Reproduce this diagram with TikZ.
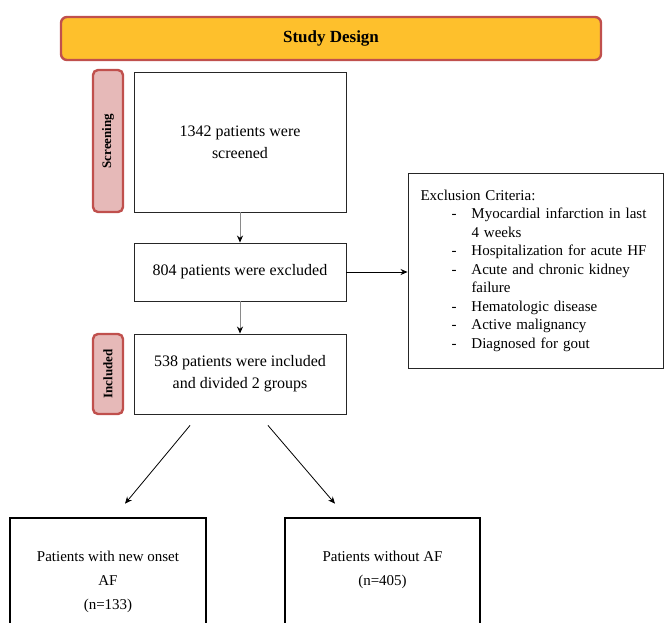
\documentclass[tikz,border=0pt]{standalone}
\usepackage{fontspec}
\setmainfont{Liberation Serif}
\usetikzlibrary{arrows.meta}
\definecolor{designgold}{HTML}{FEC02C}
\definecolor{designred}{HTML}{C0504D}
\definecolor{designpink}{HTML}{E6B9B8}
\definecolor{designgray}{HTML}{8A8A8A}
\newcommand{\critline}[1]{\hspace*{31pt}\makebox[20pt][l]{-}#1}
\newcommand{\critcont}[1]{\hspace*{51pt}#1}

\begin{document}
\begin{tikzpicture}[x=1pt,y=-1pt,>=Stealth]
  \tikzstyle{banner}=[draw=designred, fill=designgold, line width=2.4pt, rounded corners=6pt,
    minimum width=540pt, minimum height=43pt, font=\fontsize{17}{19}\selectfont\bfseries]
  \tikzstyle{stage}=[draw=designred, fill=designpink, line width=2.4pt, rounded corners=5pt,
    minimum width=30pt, inner sep=0pt]
  \tikzstyle{stagetext}=[rotate=90, font=\fontsize{13}{15}\selectfont\bfseries]
  \tikzstyle{flowbox}=[draw=black!85, line width=0.9pt, minimum width=212pt, align=center,
    font=\fontsize{16}{22}\selectfont]
  \tikzstyle{listbox}=[draw=black!85, line width=0.9pt, minimum width=255pt, minimum height=195pt,
    text width=230pt, align=left, inner sep=0pt, font=\fontsize{15}{18.5}\selectfont]
  \tikzstyle{groupbox}=[draw=black, line width=2.6pt, minimum height=124pt]
  \tikzstyle{grouptext}=[align=center, font=\fontsize{15}{24}\selectfont]
  \tikzstyle{flow}=[draw=designgray, line width=0.8pt, arrows={-Stealth[black, length=7pt, width=6pt]}]
  \tikzstyle{link}=[draw=black, line width=0.8pt, arrows={-Stealth[length=7pt, width=6pt]}]

  \useasboundingbox (0,0) rectangle (664,622);

  \node[banner] (design) at (331,38.5) {Study Design};

  % stages on the left
  \node[stage, minimum height=142pt] (screentab) at (108,141) {};
  \node[stagetext] (screenlbl) at (screentab) {Screening};
  \node[stage, minimum height=80pt] (inctab) at (108,374) {};
  \node[stagetext] (inclbl) at (inctab) {Included};

  \node[flowbox, minimum height=140pt] (screened) at (240,142) {1342 patients were\\screened};
  \node[flowbox, minimum height=58pt] (excluded) at (240,272) {804 patients were excluded};
  \node[flowbox, minimum height=80pt] (included) at (240,374) {538 patients were included\\and divided 2 groups};

  \node[listbox] (criteria) at (535.5,270.5) {%
    Exclusion Criteria:\\
    \critline{Myocardial infarction in last}\\
    \critcont{4 weeks}\\
    \critline{Hospitalization for acute HF}\\
    \critline{Acute and chronic kidney}\\
    \critcont{failure}\\
    \critline{Hematologic disease}\\
    \critline{Active malignancy}\\
    \critline{Diagnosed for gout}};

  \node[groupbox, minimum width=196pt] (newaf) at (108,580) {};
  \node[grouptext, anchor=north] (newaftext) at ([yshift=-31pt]newaf.north) {Patients with new onset\\AF\\(n=133)};
  \node[groupbox, minimum width=195pt] (noaf) at (382.5,580) {};
  \node[grouptext, anchor=north] (noaftext) at ([yshift=-31pt]noaf.north) {Patients without AF\\(n=405)};

  \draw[flow] (screened) -- (excluded);
  \draw[flow] (excluded) -- (included);
  \draw[link] (excluded) -- (criteria.west |- excluded);
  \draw[link] ([xshift=-50pt,yshift=-11pt]included.south) -- ([xshift=17pt,yshift=13pt]newaf.north);
  \draw[link] ([xshift=28pt,yshift=-11pt]included.south) -- ([xshift=-47.5pt,yshift=13pt]noaf.north);
\end{tikzpicture}
\end{document}
